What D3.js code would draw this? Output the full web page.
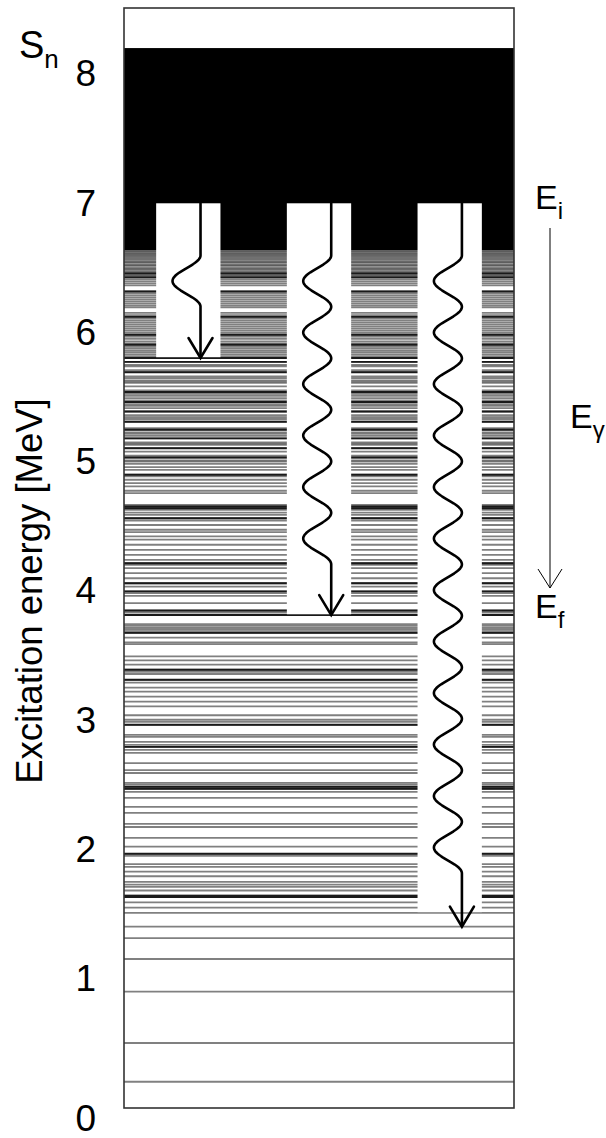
<!DOCTYPE html>
<html>
<head>
<meta charset="utf-8">
<script src="https://cdn.jsdelivr.net/npm/d3@7/dist/d3.min.js"></script>
<style>
  html, body { margin: 0; padding: 0; background: #fff; }
  svg { display: block; }
  text { font-family: "Liberation Sans", Arial, Helvetica, sans-serif; fill: #000; }
</style>
</head>
<body>
<svg id="chart" width="606" height="1138"></svg>
<script>
// Discrete levels below the quasi-continuum (MeV)
const levels = [
  6.634, 6.629, 6.624, 6.614, 6.608, 6.603, 6.595, 6.590, 6.580, 6.572, 6.562, 6.551,
  6.545, 6.539, 6.526, 6.520, 6.515, 6.500, 6.492, 6.487, 6.474, 6.465, 6.458, 6.448,
  6.442, 6.437, 6.427, 6.412, 6.396, 6.380, 6.365, 6.318, 6.303, 6.287, 6.272, 6.256,
  6.241, 6.225, 6.209, 6.194, 6.152, 6.134, 6.121, 6.108, 6.092, 6.077, 6.061, 6.046,
  6.030, 6.015, 5.999, 5.983, 5.968, 5.952, 5.932, 5.916, 5.906, 5.890, 5.875, 5.859,
  5.844, 5.828, 5.812, 5.803,
  5.773, 5.750, 5.739, 5.708, 5.693, 5.660, 5.648, 5.630, 5.620, 5.610, 5.584, 5.553,
  5.540, 5.525, 5.511, 5.493, 5.475, 5.462, 5.445, 5.433, 5.415, 5.389, 5.360, 5.346,
  5.331, 5.310, 5.261, 5.248, 5.228, 5.217, 5.201, 5.181, 5.149, 5.140, 5.131, 5.105,
  5.079, 5.048, 5.033, 5.010, 5.002, 4.984, 4.958, 4.937,
  4.900, 4.887, 4.861, 4.835, 4.809, 4.776, 4.757, 4.667, 4.654, 4.641, 4.628, 4.607,
  4.589, 4.563, 4.545, 4.511, 4.474, 4.456, 4.423, 4.397, 4.358, 4.319, 4.280, 4.241,
  4.215, 4.202, 4.177, 4.138, 4.099, 4.060, 4.034,
  3.997, 3.984, 3.963, 3.906, 3.849, 3.834, 3.814, 3.744, 3.730, 3.715, 3.704, 3.689,
  3.676, 3.639, 3.603, 3.589, 3.494, 3.463, 3.431, 3.391, 3.375, 3.358, 3.313, 3.292,
  3.253, 3.222, 3.183, 3.144,
  3.107, 3.039, 3.004, 2.988, 2.965, 2.887, 2.872, 2.833, 2.809, 2.794, 2.771, 2.747,
  2.669, 2.615, 2.592, 2.516, 2.501, 2.485, 2.470, 2.446, 2.400, 2.330, 2.283, 2.198,
  2.174,
  2.090, 2.022, 1.967, 1.950, 1.887, 1.865, 1.829, 1.793, 1.750, 1.729, 1.711, 1.683,
  1.643, 1.633, 1.591, 1.550, 1.509,
  1.403, 1.315, 1.153, 0.900, 0.503, 0.203
];

// Levels that stand out as strong lines
const boldLevels = [
  6.458, 6.427, 6.318, 6.121, 5.983, 5.906, 5.803, 5.773, 5.693, 5.540, 5.462, 5.389,
  5.310, 5.248, 5.181, 5.105, 5.033, 4.900, 4.654, 4.641, 4.563, 4.215, 4.060, 3.997,
  3.849, 3.814, 3.676, 3.391, 3.313, 2.965, 2.794, 2.485, 2.470, 1.967, 1.643, 1.633
];

const energyTicks = [0, 1, 2, 3, 4, 5, 6, 7, 8];
const topEnergy = 8.511;          // top of the frame
const separationEnergy = 8.201;   // S_n
const continuumOnset = 6.638;     // start of the quasi-continuum
const initialEnergy = 7.0;        // E_i
const finalEnergies = [5.803, 3.814, 1.403];   // E_f of the three gamma transitions
const windowFloors = [5.803, 3.814, 1.509];    // lower edge of each cleared column
const waveCycles = [1, 6, 12];

const svg = d3.select("#chart");
const frame = { left: 124, right: 514, top: 8, bottom: 1108 };

const y = d3.scaleLinear().domain([0, topEnergy]).range([frame.bottom, frame.top]);
const col = d3.scaleBand()
  .domain(d3.range(finalEnergies.length))
  .range([frame.left, frame.right])
  .paddingInner(0.508)
  .paddingOuter(0.246);

// background of the level box
svg.append("rect")
  .attr("x", frame.left).attr("y", frame.top)
  .attr("width", frame.right - frame.left).attr("height", frame.bottom - frame.top)
  .attr("fill", "#fff");

// level lines
const lv = svg.append("g");
lv.selectAll("line.level").data(levels).join("line")
  .attr("class", "level")
  .attr("x1", frame.left).attr("x2", frame.right)
  .attr("y1", d => y(d)).attr("y2", d => y(d))
  .attr("stroke", "#555").attr("stroke-width", 1.8).attr("stroke-opacity", 0.75);
lv.selectAll("line.bold").data(boldLevels).join("line")
  .attr("class", "bold")
  .attr("x1", frame.left).attr("x2", frame.right)
  .attr("y1", d => y(d)).attr("y2", d => y(d))
  .attr("stroke", "#1a1a1a").attr("stroke-width", 1.9);

// quasi-continuum up to S_n
svg.append("rect")
  .attr("x", frame.left).attr("width", frame.right - frame.left)
  .attr("y", y(separationEnergy))
  .attr("height", y(continuumOnset) - y(separationEnergy))
  .attr("fill", "#000");

// cleared columns for the transitions
svg.append("g").selectAll("rect").data(windowFloors).join("rect")
  .attr("x", (d, i) => col(i))
  .attr("width", col.bandwidth())
  .attr("y", y(initialEnergy))
  .attr("height", d => y(d) - y(initialEnergy) - 0.8)
  .attr("fill", "#fff");

// gamma arrows: straight segment, wiggle, straight segment, open head
const line = d3.line();
const period = 51.5, amp = 28, lead = 52, headW = 12, headL = 20;
const arrows = svg.append("g").attr("fill", "none").attr("stroke", "#000")
  .attr("stroke-width", 2.6).attr("stroke-linejoin", "round").attr("stroke-linecap", "round");

finalEnergies.forEach((ef, i) => {
  const xa = col(i) + col.bandwidth() * 0.69;
  const y0 = y(initialEnergy), y1 = y(ef);
  const pts = [[xa, y0]];
  const start = y0 + lead;
  const len = waveCycles[i] * period;
  for (let t = 0; t <= len; t += 1) {
    pts.push([xa - amp * (1 - Math.cos(2 * Math.PI * t / period)) / 2, start + t]);
  }
  pts.push([xa, y1 - 1]);
  arrows.append("path").attr("d", line(pts));
  arrows.append("path")
    .attr("stroke-linejoin", "miter")
    .attr("d", line([[xa - headW, y1 - headL], [xa, y1], [xa + headW, y1 - headL]]));
});

// frame
svg.append("rect")
  .attr("x", frame.left).attr("y", frame.top)
  .attr("width", frame.right - frame.left).attr("height", frame.bottom - frame.top)
  .attr("fill", "none").attr("stroke", "#333").attr("stroke-width", 1.6);

// energy axis labels
const axis = svg.append("g")
  .attr("transform", `translate(${frame.left},0)`)
  .call(d3.axisLeft(y).tickValues(energyTicks).tickSize(0).tickPadding(28).tickFormat(d3.format("d")));
axis.select(".domain").remove();
axis.selectAll("text")
  .attr("font-size", 37)
  .attr("font-family", "Liberation Sans, Arial, sans-serif")
  .attr("fill", "#000")
  .filter(d => d === 0).attr("dy", "0.62em");

// axis title
svg.append("text")
  .attr("transform", "translate(42,591) rotate(-90)")
  .attr("text-anchor", "middle")
  .attr("font-size", 36.5)
  .text("Excitation energy [MeV]");

// S_n label
const sn = svg.append("text").attr("x", 19).attr("y", 58).attr("font-size", 38);
sn.append("tspan").text("S");
sn.append("tspan").attr("dy", 10).attr("font-size", 26).text("n");

// E_i, E_gamma, E_f labels
function subLabel(x, yy, main, sub) {
  const t = svg.append("text").attr("x", x).attr("y", yy).attr("font-size", 34);
  t.append("tspan").text(main);
  t.append("tspan").attr("dy", 10).attr("font-size", 24).text(sub);
}
subLabel(535, 209, "E", "i");
subLabel(570, 428, "E", "\u03b3");
subLabel(535, 618, "E", "f");

// E_gamma arrow
const ga = svg.append("g").attr("fill", "none").attr("stroke", "#000").attr("stroke-width", 1);
ga.append("line").attr("x1", 550).attr("x2", 550).attr("y1", 228).attr("y2", 588);
ga.append("path").attr("d", line([[538, 569], [550, 588], [562, 569]]));
</script>
</body>
</html>
